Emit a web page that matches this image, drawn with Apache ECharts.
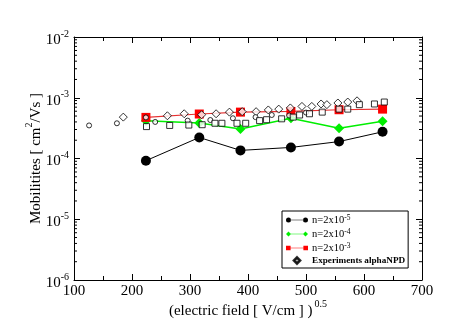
<!DOCTYPE html>
<html>
<head>
<meta charset="utf-8">
<script src="https://cdn.jsdelivr.net/npm/echarts@6/dist/echarts.min.js"></script>
<style>
  html, body { margin: 0; padding: 0; background: #fff; }
  #chart { width: 460px; height: 333px; }
</style>
</head>
<body>
<div id="chart"></div>
<script>
// Square root of the electric field, (V/cm)^0.5, for the simulated densities
const fieldSim = [224, 316, 387, 474, 557, 632];
// Simulated mobilities (cm^2/Vs) for three carrier densities
const mobN5 = [9.2e-5, 2.22e-4, 1.36e-4, 1.52e-4, 1.9e-4, 2.75e-4];
const mobN4 = [4.2e-4, 3.85e-4, 3.05e-4, 4.6e-4, 3.15e-4, 4.1e-4];
const mobN3 = [4.75e-4, 5.4e-4, 5.8e-4, 5.95e-4, 6.35e-4, 6.5e-4];

// Measured alpha-NPD mobilities: [sqrt(field), mobility]
const expDiamond = [
  [185, 4.8e-4], [261, 5.05e-4], [290, 5.45e-4], [320, 5.25e-4], [345, 5.45e-4],
  [368, 5.8e-4], [390, 5.9e-4], [414, 5.9e-4], [435, 6.3e-4], [453, 6.5e-4],
  [473, 6.8e-4], [493, 7.2e-4], [510, 7.2e-4], [526, 7.9e-4], [536, 7.7e-4],
  [555, 8.2e-4], [572, 8.5e-4], [588, 8.9e-4]
];
const expCircle = [
  [126, 3.5e-4], [174, 3.8e-4], [224, 4.75e-4], [240, 4.0e-4], [296, 4.2e-4],
  [335, 4.3e-4], [374, 4.6e-4], [413, 4.8e-4], [441, 5.2e-4], [471, 5.1e-4],
  [500, 5.7e-4]
];
const expSquare = [
  [225, 3.35e-4], [265, 3.5e-4], [298, 3.55e-4], [321, 3.6e-4], [343, 3.8e-4],
  [355, 3.8e-4], [381, 3.8e-4], [396, 3.8e-4], [420, 4.2e-4], [432, 4.35e-4],
  [458, 4.5e-4], [478, 4.8e-4], [489, 5.2e-4], [506, 5.45e-4], [528, 5.8e-4],
  [557, 6.5e-4], [572, 6.5e-4], [592, 7.7e-4], [618, 7.9e-4], [635, 8.5e-4]
];

// Legend labels: base text and exponent
const legendBase = ['n=2x10', 'n=2x10', 'n=2x10', 'Experiments alphaNPD'];
const legendExp = ['-5', '-4', '-3', ''];

// Axis ranges
const xMin = 100, xMax = 700, xStep = 100;
const yMin = 1e-6, yMax = 1e-2;

const FONT = '"Liberation Serif", "DejaVu Serif", serif';

// Log minor tick values 2..9 x 10^n inside the y range
const minorVals = [];
for (let e = -6; e < -2; e++) {
  for (let k = 2; k <= 9; k++) minorVals.push([xMin, k * Math.pow(10, e)]);
}

const pairs = (xs, ys) => xs.map((x, i) => [x, ys[i]]);

// Legend icons: line sample with a marker at each end
const iconCircle = 'path://M0,5a5,5 0 1,0 10,0a5,5 0 1,0 -10,0ZM34,5a5,5 0 1,0 10,0a5,5 0 1,0 -10,0ZM9,4.4L35,4.4L35,5.6L9,5.6Z';
const iconDiamond = 'path://M5,0L10,5L5,10L0,5ZM39,0L44,5L39,10L34,5ZM9,4.3L35,4.3L35,5.7L9,5.7Z';
const iconSquare = 'path://M0.5,0.5L9.5,0.5L9.5,9.5L0.5,9.5ZM34.5,0.5L43.5,0.5L43.5,9.5L34.5,9.5ZM9,4.4L35,4.4L35,5.6L9,5.6Z';
const iconHollow = 'path://M22,1.5L25.5,5L22,8.5L18.5,5ZM22,2.7L19.7,5L22,7.3L24.3,5Z';

const chart = echarts.init(document.getElementById('chart'), null, { renderer: 'canvas' });

const xAxisBase = {
  type: 'value', min: xMin, max: xMax, interval: xStep,
  axisLine: { show: true, lineStyle: { color: '#000', width: 1 } },
  axisTick: { show: true, inside: true, length: 6, lineStyle: { color: '#000' } },
  minorTick: { show: true, splitNumber: 2, length: 4, lineStyle: { color: '#000' } },
  splitLine: { show: false },
  minorSplitLine: { show: false }
};
const yAxisBase = {
  type: 'log', logBase: 10, min: yMin, max: yMax,
  axisLine: { show: true, lineStyle: { color: '#000', width: 1 } },
  axisTick: { show: true, inside: true, length: 6, lineStyle: { color: '#000' } },
  splitLine: { show: false }
};

// open marker style: white fill, thin black outline
const openMarker = { color: '#fff', borderColor: '#000', borderWidth: 1 };

chart.setOption({
  animation: false,
  backgroundColor: '#fff',
  grid: { left: 74, top: 37, width: 348, height: 243, containLabel: false },
  xAxis: [
    Object.assign({}, xAxisBase, {
      position: 'bottom',
      axisLabel: { color: '#000', fontFamily: FONT, fontSize: 15, margin: 4 },
      name: '{t|(electric field [ V/cm ] )}{s|0.5}',
      nameLocation: 'middle',
      nameMoveOverlap: false,
      nameGap: 19,
      nameTextStyle: {
        color: '#000', fontFamily: FONT,
        rich: {
          t: { fontSize: 15, fontFamily: FONT, color: '#000' },
          s: { fontSize: 10, fontFamily: FONT, color: '#000', padding: [0, 0, 14, 2] }
        }
      }
    }),
    Object.assign({}, xAxisBase, {
      position: 'top',
      axisLabel: { show: false }
    })
  ],
  yAxis: [
    Object.assign({}, yAxisBase, {
      position: 'left',
      axisLabel: {
        color: '#000', margin: 5,
        formatter: v => '{b|10}{s|' + Math.round(Math.log10(v)) + '}',
        rich: {
          b: { fontSize: 15, fontFamily: FONT, color: '#000', padding: [6, 0, 0, 0] },
          s: { fontSize: 10, fontFamily: FONT, color: '#000', padding: [0, 0, 6, 0] }
        }
      },
      name: '{t|Mobilitites [ cm}{s|2}{t|/Vs ]}',
      nameLocation: 'middle',
      nameMoveOverlap: false,
      nameGap: 26,
      nameTextStyle: {
        color: '#000', fontFamily: FONT,
        rich: {
          t: { fontSize: 15, fontFamily: FONT, color: '#000' },
          s: { fontSize: 10, fontFamily: FONT, color: '#000', padding: [0, 0, 14, 0] }
        }
      }
    }),
    Object.assign({}, yAxisBase, {
      position: 'right',
      axisLabel: { show: false }
    })
  ],
  legend: {
    left: 282, top: 211,
    orient: 'vertical',
    backgroundColor: '#fff',
    borderColor: '#000', borderWidth: 1, borderRadius: 0,
    padding: [3, 3, 3, 4],
    itemWidth: 22, itemHeight: 7, itemGap: 2,
    selectedMode: false,
    textStyle: {
      color: '#000', fontFamily: FONT, fontSize: 10, padding: [0, 0, 0, -1],
      rich: {
        a: { fontSize: 10.5, fontFamily: FONT, color: '#000', lineHeight: 12, verticalAlign: 'bottom' },
        e: { fontSize: 9.2, fontFamily: FONT, color: '#000', fontWeight: 'bold', lineHeight: 12 },
        s: { fontSize: 7.5, fontFamily: FONT, color: '#000', lineHeight: 12, verticalAlign: 'top' }
      }
    },
    formatter: name => {
      const i = ['n5', 'n4', 'n3', 'exp'].indexOf(name);
      if (legendExp[i]) return '{a|' + legendBase[i] + '}{s|' + legendExp[i] + '}';
      return '{e|' + legendBase[i] + '}';
    },
    data: [
      { name: 'n5', icon: iconCircle, itemStyle: { color: '#000' } },
      { name: 'n4', icon: iconDiamond, itemStyle: { color: '#00ee00' } },
      { name: 'n3', icon: iconSquare, itemStyle: { color: '#ff0000' } },
      { name: 'exp', icon: iconHollow, itemStyle: { color: '#000' } }
    ]
  },
  series: [
    {
      // log-scale minor ticks on the left and right frame edges
      type: 'custom', silent: true, clip: false,
      xAxisIndex: 0, yAxisIndex: 0,
      data: minorVals,
      renderItem: (params, api) => {
        const v = api.value(1);
        const l = api.coord([xMin, v]);
        const r = api.coord([xMax, v]);
        return {
          type: 'group',
          children: [
            { type: 'line', shape: { x1: l[0], y1: l[1], x2: l[0] + 3, y2: l[1] }, style: { stroke: '#000', lineWidth: 1 } },
            { type: 'line', shape: { x1: r[0], y1: r[1], x2: r[0] - 3, y2: r[1] }, style: { stroke: '#000', lineWidth: 1 } }
          ]
        };
      }
    },
    {
      name: 'n5', type: 'line', data: pairs(fieldSim, mobN5),
      symbol: 'circle', symbolSize: 10,
      itemStyle: { color: '#000' }, lineStyle: { color: '#000', width: 1 }, z: 3
    },
    {
      name: 'n4', type: 'line', data: pairs(fieldSim, mobN4),
      symbol: 'diamond', symbolSize: 10,
      itemStyle: { color: '#00ee00' }, lineStyle: { color: '#00ee00', width: 1.5 }, z: 3
    },
    {
      name: 'n3', type: 'line', data: pairs(fieldSim, mobN3),
      symbol: 'rect', symbolSize: 9,
      itemStyle: { color: '#ff0000' }, lineStyle: { color: '#e83030', width: 1.2 }, z: 3
    },
    {
      name: 'exp', type: 'scatter', data: expDiamond,
      symbol: 'diamond', symbolSize: 8,
      itemStyle: openMarker, z: 4
    },
    {
      name: 'expCircle', type: 'scatter', data: expCircle,
      symbol: 'circle', symbolSize: 5,
      itemStyle: openMarker, z: 4
    },
    {
      name: 'expSquare', type: 'scatter', data: expSquare,
      symbol: 'rect', symbolSize: 6,
      itemStyle: openMarker, z: 4
    }
  ]
});
</script>
</body>
</html>
